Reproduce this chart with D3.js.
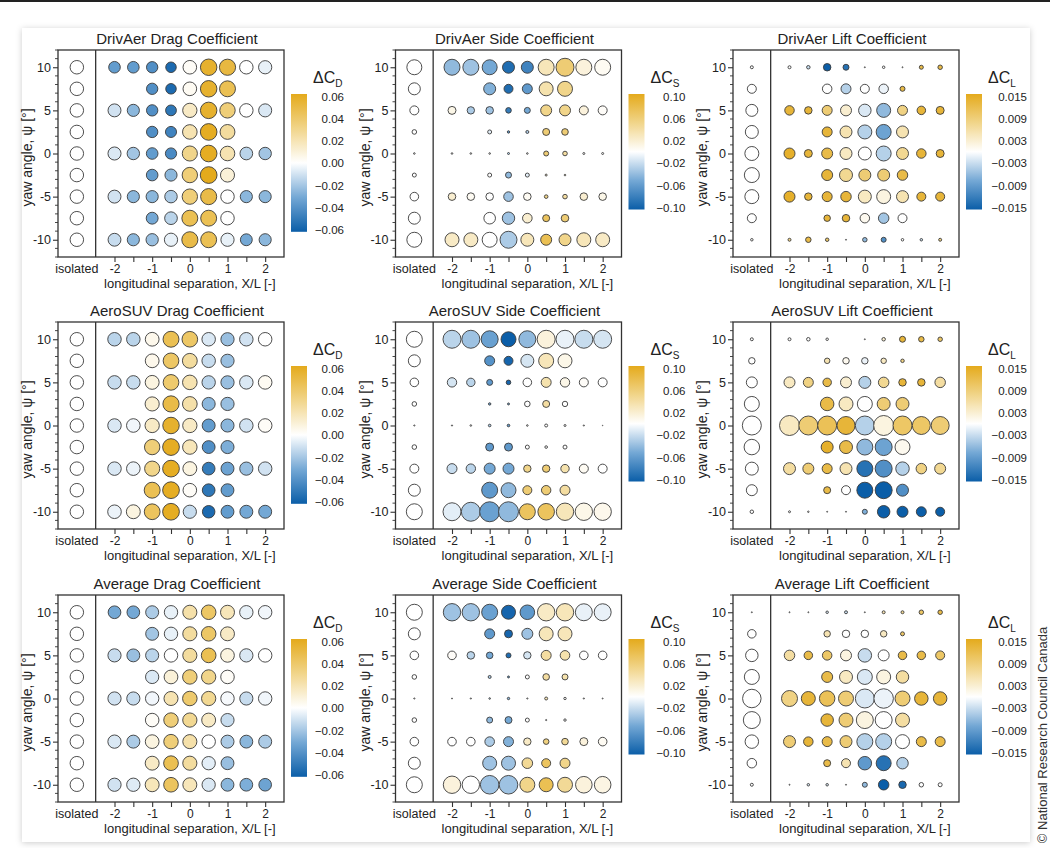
<!DOCTYPE html>
<html><head><meta charset="utf-8">
<script src="https://cdn.jsdelivr.net/npm/d3@7"></script>
<style>body{margin:0;background:#fff;font-family:"Liberation Sans",Arial,Helvetica,sans-serif}</style>
</head><body><svg id="c" width="1050" height="848"></svg>
<script>
const n = null;
const yawAngles = [10, 7.5, 5, 2.5, 0, -2.5, -5, -7.5, -10];
const separations = [-2, -1.5, -1, -0.5, 0, 0.5, 1, 1.5, 2];
const isolatedPos = -3;
const xTickValues = [-2, -1.5, -1, -0.5, 0, 0.5, 1, 1.5, 2];
const yTickValues = [-10, -5, 0, 5, 10];
const dragBarTicks = [0.06, 0.04, 0.02, 0.00, -0.02, -0.04, -0.06];
const sideBarTicks = [0.10, 0.06, 0.02, -0.02, -0.06, -0.10];
const liftBarTicks = [0.015, 0.009, 0.003, -0.003, -0.009, -0.015];

// ---- DrivAer drag ----
const drivAerDragDelta = [
 [-0.035,-0.035,-0.04,-0.055,0.002,0.055,0.05,0.0,-0.005],
 [n,n,-0.04,-0.055,0.003,0.055,0.045,n,n],
 [-0.01,-0.025,-0.04,-0.05,0.015,0.055,0.035,0.0,-0.008],
 [n,n,-0.04,-0.045,0.02,0.058,0.025,n,n],
 [-0.008,-0.02,-0.035,-0.042,0.03,0.058,0.02,-0.015,-0.02],
 [n,n,-0.035,-0.025,0.035,0.06,0.01,n,n],
 [-0.01,-0.025,-0.025,-0.018,0.035,0.048,0.0,-0.025,-0.025],
 [n,n,-0.03,-0.015,0.045,0.045,0.0,n,n],
 [-0.012,-0.025,-0.022,-0.005,0.048,0.045,-0.005,-0.03,-0.025]];
const drivAerDragMag = [
 [0.215,0.215,0.21,0.195,0.252,0.305,0.3,0.25,0.245],
 [n,n,0.21,0.195,0.253,0.305,0.295,n,n],
 [0.24,0.225,0.21,0.2,0.265,0.305,0.285,0.25,0.242],
 [n,n,0.21,0.205,0.27,0.308,0.275,n,n],
 [0.242,0.23,0.215,0.208,0.28,0.308,0.27,0.235,0.23],
 [n,n,0.215,0.225,0.285,0.31,0.26,n,n],
 [0.24,0.225,0.225,0.232,0.285,0.298,0.25,0.225,0.225],
 [n,n,0.22,0.235,0.295,0.295,0.25,n,n],
 [0.238,0.225,0.228,0.245,0.298,0.295,0.245,0.22,0.225]];
const drivAerDragIso = [0.25,0.25,0.25,0.25,0.25,0.25,0.25,0.25,0.25];

// ---- DrivAer side ----
const drivAerSideDelta = [
 [-0.04,-0.035,-0.05,-0.09,-0.075,0.03,0.06,0.015,0.005],
 [n,n,-0.045,-0.09,-0.06,0.035,0.05,n,n],
 [0.01,-0.03,-0.035,-0.08,-0.05,0.05,0.05,0.015,0.003],
 [n,n,-0.01,-0.06,-0.03,0.06,0.06,n,n],
 [0,0,0,-0.03,0,0.06,0.04,0,0],
 [n,n,0,-0.04,-0.01,0.02,0.02,n,n],
 [0.02,0.005,0,-0.035,0.005,0.05,0.04,0.02,0.01],
 [n,n,0,-0.035,0.02,0.07,0.06,n,n],
 [0.025,0.025,0,-0.03,0.03,0.075,0.05,0.03,0.025]];
const drivAerSideMag = [
 [0.32,0.32,0.30,0.24,0.24,0.32,0.36,0.32,0.32],
 [n,n,0.24,0.18,0.2,0.28,0.3,n,n],
 [0.16,0.148,0.152,0.112,0.12,0.22,0.22,0.18,0.18],
 [n,n,0.08,0.048,0.06,0.14,0.132,n,n],
 [0.032,0.032,0.032,0.04,0.032,0.1,0.092,0.04,0.04],
 [n,n,0.08,0.12,0.08,0.04,0.032,n,n],
 [0.152,0.152,0.152,0.192,0.152,0.072,0.092,0.152,0.152],
 [n,n,0.232,0.248,0.192,0.14,0.152,n,n],
 [0.28,0.28,0.3,0.34,0.26,0.22,0.24,0.28,0.28]];
const drivAerSideIso = [0.3,0.24,0.18,0.092,0.032,0.08,0.172,0.24,0.3];

// ---- DrivAer lift ----
const drivAerLiftDelta = [
 [0,-0.003,-0.015,-0.013,0,0,0,0.012,0.012],
 [n,n,0,-0.004,0,-0.001,0.012,n,n],
 [0.013,0.013,0.009,0.003,-0.002,-0.006,0.008,0.013,0.013],
 [n,n,0.013,0.005,-0.004,-0.008,0.005,n,n],
 [0.014,0.013,0.012,0.004,0,-0.004,0.007,0.013,0.013],
 [n,n,0.013,0.007,0.009,0.009,0.012,n,n],
 [0.014,0.013,0.013,0.013,0.004,0.002,0.005,0.013,0.013],
 [n,n,0.013,0.013,0.001,-0.005,0,n,n],
 [0.008,0.012,0.01,0,-0.006,-0.01,0,-0.003,0.008]];
const drivAerLiftMag = [
 [0.006,0.007,0.015,0.012,0.002,0.005,0.002,0.008,0.009],
 [n,n,0.019,0.02,0.018,0.019,0.01,n,n],
 [0.019,0.015,0.02,0.022,0.025,0.028,0.02,0.017,0.016],
 [n,n,0.02,0.024,0.028,0.03,0.024,n,n],
 [0.022,0.016,0.022,0.024,0.026,0.03,0.024,0.019,0.016],
 [n,n,0.022,0.026,0.024,0.024,0.021,n,n],
 [0.022,0.015,0.02,0.021,0.026,0.028,0.024,0.018,0.018],
 [n,n,0.013,0.015,0.019,0.021,0.018,n,n],
 [0.006,0.011,0.007,0.002,0.009,0.01,0.005,0.005,0.006]];
const drivAerLiftIso = [0.006,0.018,0.024,0.026,0.028,0.03,0.028,0.018,0.005];

// ---- AeroSUV drag ----
const aeroSuvDragDelta = [
 [-0.015,-0.015,0.005,0.045,0.04,-0.008,-0.022,-0.01,0],
 [n,n,0.005,0.04,0.025,-0.012,-0.022,n,n],
 [-0.012,-0.012,0.008,0.038,0.02,-0.015,-0.022,-0.008,0.003],
 [n,n,0.012,0.048,0.022,-0.025,-0.022,n,n],
 [-0.008,-0.003,0.015,0.055,0.015,-0.035,-0.025,-0.01,0.002],
 [n,n,0.035,0.058,0.018,-0.04,-0.028,n,n],
 [-0.008,-0.004,0.03,0.058,0.008,-0.048,-0.032,-0.022,-0.01],
 [n,n,0.045,0.058,0.002,-0.05,-0.035,n,n],
 [-0.004,0.008,0.042,0.058,-0.012,-0.055,-0.035,-0.03,-0.03]];
const aeroSuvDragMag = [
 [0.25,0.25,0.255,0.295,0.29,0.25,0.245,0.25,0.25],
 [n,n,0.255,0.29,0.275,0.25,0.245,n,n],
 [0.25,0.25,0.258,0.29,0.27,0.248,0.245,0.25,0.252],
 [n,n,0.262,0.3,0.272,0.242,0.245,n,n],
 [0.25,0.252,0.265,0.305,0.265,0.24,0.243,0.25,0.252],
 [n,n,0.285,0.31,0.268,0.238,0.242,n,n],
 [0.25,0.252,0.28,0.31,0.258,0.235,0.24,0.245,0.25],
 [n,n,0.295,0.31,0.252,0.235,0.238,n,n],
 [0.252,0.258,0.292,0.31,0.245,0.232,0.238,0.24,0.24]];
const aeroSuvDragIso = [0.25,0.25,0.25,0.25,0.25,0.25,0.25,0.25,0.25];

// ---- AeroSUV side ----
const aeroSuvSideDelta = [
 [-0.025,-0.035,-0.055,-0.1,-0.04,0.015,-0.008,-0.02,-0.015],
 [n,n,-0.065,-0.095,-0.015,0.03,0.01,n,n],
 [-0.015,-0.025,-0.06,-0.095,0,0.035,0.01,0.003,0],
 [n,n,-0.05,-0.05,0,0.04,0,n,n],
 [0,0,-0.03,-0.06,0,0,0,0,0],
 [n,n,-0.06,-0.06,0,0,0,n,n],
 [-0.02,-0.025,-0.05,-0.05,0.05,0.06,0.035,0.005,0],
 [n,n,-0.06,-0.04,0.06,0.06,0.04,n,n],
 [-0.01,-0.03,-0.055,-0.04,0.07,0.07,0.03,0.01,0.008]];
const aeroSuvSideMag = [
 [0.36,0.36,0.34,0.3,0.34,0.36,0.36,0.36,0.36],
 [n,n,0.2,0.18,0.26,0.3,0.28,n,n],
 [0.188,0.168,0.12,0.092,0.172,0.2,0.188,0.18,0.18],
 [n,n,0.048,0.04,0.112,0.14,0.108,n,n],
 [0.024,0.032,0.052,0.052,0.032,0.06,0.04,0.024,0.012],
 [n,n,0.16,0.16,0.08,0.052,0.08,n,n],
 [0.2,0.188,0.22,0.22,0.148,0.148,0.168,0.18,0.18],
 [n,n,0.32,0.3,0.18,0.188,0.2,n,n],
 [0.36,0.38,0.4,0.4,0.32,0.332,0.348,0.348,0.348]];
const aeroSuvSideIso = [0.32,0.24,0.172,0.092,0.024,0.092,0.18,0.24,0.32];

// ---- AeroSUV lift ----
const aeroSuvLiftDelta = [
 [0,0,0,0,0,0.003,0.013,0.012,0.01],
 [n,n,0.005,0.001,-0.001,0.004,0.008,n,n],
 [0.004,0.008,0.012,0.003,-0.004,0.007,0.013,0.013,0.006],
 [n,n,0.012,0.004,0,0.009,0.009,n,n],
 [0.004,0.009,0.011,0.013,-0.004,0.002,0.01,0.01,0.009],
 [n,n,0.014,0.012,-0.006,-0.008,0.001,n,n],
 [0.006,0.009,0.012,0.005,-0.013,-0.01,-0.004,0.008,0.007],
 [n,n,0.012,0,-0.015,-0.015,-0.01,n,n],
 [0,0,0,0,-0.007,-0.015,-0.015,-0.015,-0.015]];
const aeroSuvLiftMag = [
 [0.006,0.007,0.005,0,0.002,0.007,0.012,0.011,0.009],
 [n,n,0.011,0.013,0.013,0.011,0.007,n,n],
 [0.022,0.02,0.017,0.022,0.024,0.021,0.015,0.015,0.021],
 [n,n,0.027,0.028,0.03,0.026,0.026,n,n],
 [0.04,0.038,0.038,0.036,0.038,0.04,0.038,0.036,0.036],
 [n,n,0.024,0.026,0.032,0.034,0.03,n,n],
 [0.024,0.022,0.02,0.024,0.032,0.034,0.027,0.021,0.022],
 [n,n,0.014,0.018,0.032,0.034,0.024,n,n],
 [0.004,0.003,0.002,0.002,0.01,0.025,0.022,0.02,0.018]];
const aeroSuvLiftIso = [0.006,0.013,0.022,0.03,0.038,0.031,0.026,0.022,0.007];

// ---- Average drag ----
const averageDragDelta = [
 [-0.03,-0.03,-0.018,-0.005,0.022,0.04,0.018,-0.005,-0.003],
 [n,n,-0.02,-0.005,0.025,0.04,0.015,n,n],
 [-0.012,-0.022,-0.015,0,0.025,0.045,0.008,-0.008,0],
 [n,n,-0.008,0.01,0.035,0.03,0.002,n,n],
 [-0.01,-0.012,-0.003,0.02,0.038,0.028,-0.002,-0.012,-0.003],
 [n,n,0.002,0.035,0.028,0.015,-0.012,n,n],
 [-0.008,-0.018,0.008,0.035,0.022,0,-0.018,-0.025,-0.018],
 [n,n,0.015,0.045,0.025,-0.006,-0.022,n,n],
 [-0.01,-0.007,0.018,0.042,0.018,-0.008,-0.025,-0.028,-0.032]];
const averageDragMag = [
 [0.235,0.235,0.241,0.248,0.261,0.27,0.259,0.248,0.249],
 [n,n,0.24,0.248,0.262,0.27,0.258,n,n],
 [0.244,0.239,0.243,0.25,0.262,0.272,0.254,0.246,0.25],
 [n,n,0.246,0.255,0.268,0.265,0.251,n,n],
 [0.245,0.244,0.249,0.26,0.269,0.264,0.249,0.244,0.249],
 [n,n,0.251,0.268,0.264,0.258,0.244,n,n],
 [0.246,0.241,0.254,0.268,0.261,0.25,0.241,0.238,0.241],
 [n,n,0.258,0.272,0.262,0.247,0.239,n,n],
 [0.245,0.247,0.259,0.271,0.259,0.246,0.238,0.236,0.234]];
const averageDragIso = [0.25,0.25,0.25,0.25,0.25,0.25,0.25,0.25,0.25];

// ---- Average side ----
const averageSideDelta = [
 [-0.035,-0.035,-0.055,-0.095,-0.06,0.025,0.03,-0.008,-0.008],
 [n,n,-0.06,-0.095,-0.035,0.03,0.03,n,n],
 [0.003,-0.025,-0.05,-0.09,-0.015,0.04,0.035,0,0],
 [n,n,-0.03,-0.06,0,0.04,0.035,n,n],
 [0,0,-0.02,-0.04,0,0.03,0,0,0],
 [n,n,-0.04,-0.05,0,0,0,n,n],
 [0,0,-0.03,-0.045,0.025,0.055,0.045,0.015,0.005],
 [n,n,-0.035,-0.035,0.045,0.07,0.05,n,n],
 [0.015,0,-0.035,-0.035,0.05,0.075,0.045,0.015,0.012]];
const averageSideMag = [
 [0.348,0.348,0.32,0.28,0.292,0.348,0.348,0.34,0.34],
 [n,n,0.2,0.16,0.22,0.28,0.28,n,n],
 [0.172,0.152,0.132,0.1,0.148,0.2,0.192,0.172,0.172],
 [n,n,0.06,0.04,0.08,0.132,0.12,n,n],
 [0.02,0.024,0.032,0.048,0.024,0.06,0.048,0.024,0.02],
 [n,n,0.12,0.14,0.08,0.024,0.048,n,n],
 [0.172,0.172,0.192,0.2,0.148,0.112,0.132,0.16,0.172],
 [n,n,0.28,0.28,0.212,0.18,0.2,n,n],
 [0.348,0.348,0.372,0.372,0.3,0.28,0.3,0.332,0.332]];
const averageSideIso = [0.32,0.24,0.172,0.092,0.024,0.092,0.172,0.24,0.32];

// ---- Average lift ----
const averageLiftDelta = [
 [0,0,-0.002,-0.003,0,0.005,0.007,0.01,0.012],
 [n,n,0.005,0,0,0.004,0.01,n,n],
 [0.006,0.012,0.01,0.002,-0.003,0,0.012,0.012,0.01],
 [n,n,0.012,0.004,-0.002,0.002,0.006,n,n],
 [0.008,0.013,0.011,0.009,-0.002,-0.001,0.009,0.013,0.013],
 [n,n,0.013,0.009,0.002,0,0.006,n,n],
 [0.009,0.013,0.012,0.009,-0.004,-0.004,0,0.012,0.012],
 [n,n,0.012,0.005,-0.009,-0.013,-0.004,n,n],
 [0,-0.002,-0.002,0,-0.006,-0.015,-0.014,0,0]];
const averageLiftMag = [
 [0.002,0.002,0.005,0.006,0.002,0.006,0.006,0.009,0.009],
 [n,n,0.013,0.015,0.015,0.013,0.008,n,n],
 [0.021,0.017,0.019,0.022,0.027,0.022,0.017,0.017,0.018],
 [n,n,0.022,0.026,0.03,0.028,0.025,n,n],
 [0.032,0.028,0.031,0.03,0.038,0.039,0.03,0.027,0.027],
 [n,n,0.025,0.028,0.034,0.034,0.028,n,n],
 [0.024,0.019,0.02,0.024,0.032,0.032,0.028,0.02,0.02],
 [n,n,0.014,0.018,0.027,0.03,0.023,n,n],
 [0.002,0.005,0.005,0.002,0.01,0.021,0.015,0.009,0.008]];
const averageLiftIso = [0.002,0.017,0.025,0.03,0.037,0.034,0.027,0.019,0.006];

const panels = [
 {title:"DrivAer Drag Coefficient", kind:"D", delta:drivAerDragDelta, mag:drivAerDragMag, iso:drivAerDragIso},
 {title:"DrivAer Side Coefficient", kind:"S", delta:drivAerSideDelta, mag:drivAerSideMag, iso:drivAerSideIso},
 {title:"DrivAer Lift Coefficient", kind:"L", delta:drivAerLiftDelta, mag:drivAerLiftMag, iso:drivAerLiftIso},
 {title:"AeroSUV Drag Coefficient", kind:"D", delta:aeroSuvDragDelta, mag:aeroSuvDragMag, iso:aeroSuvDragIso},
 {title:"AeroSUV Side Coefficient", kind:"S", delta:aeroSuvSideDelta, mag:aeroSuvSideMag, iso:aeroSuvSideIso},
 {title:"AeroSUV Lift Coefficient", kind:"L", delta:aeroSuvLiftDelta, mag:aeroSuvLiftMag, iso:aeroSuvLiftIso},
 {title:"Average Drag Coefficient", kind:"D", delta:averageDragDelta, mag:averageDragMag, iso:averageDragIso},
 {title:"Average Side Coefficient", kind:"S", delta:averageSideDelta, mag:averageSideMag, iso:averageSideIso},
 {title:"Average Lift Coefficient", kind:"L", delta:averageLiftDelta, mag:averageLiftMag, iso:averageLiftIso}
];

const kinds = {
 D:{ticks:dragBarTicks, fmt:d3.format(".2f"), sub:"D", rDomain:[0,0.35], rRange:[0,9.45], labOff:37},
 S:{ticks:sideBarTicks, fmt:d3.format(".2f"), sub:"S", rDomain:[0,0.4], rRange:[0,10], labOff:41},
 L:{ticks:liftBarTicks, fmt:d3.format(".3f"), sub:"L", rDomain:[0,0.04], rRange:[0,10], labOff:45}
};

const ramp = d3.scaleLinear().domain([-1,-0.5,0,0.5,1])
  .range(["#0b5ea8","#74a8d5","#ffffff","#f1d58a","#e4aa1c"]).clamp(true);

const svg = d3.select("#c");
const defs = svg.append("defs");
const flt = defs.append("filter").attr("id","sh").attr("x","-3%").attr("y","-3%").attr("width","106%").attr("height","106%");
flt.append("feDropShadow").attr("dx",0).attr("dy",1).attr("stdDeviation",3).attr("flood-color","#000").attr("flood-opacity",0.2);
const grad = defs.append("linearGradient").attr("id","cbar").attr("x1",0).attr("y1",0).attr("x2",0).attr("y2",1);
d3.range(0,1.0001,0.05).forEach(o => grad.append("stop").attr("offset",o).attr("stop-color", ramp(1-2*o)));

svg.append("rect").attr("x",0).attr("y",0).attr("width",1050).attr("height",2).attr("fill","#222");
svg.append("rect").attr("x",22).attr("y",28).attr("width",1008).attr("height",814).attr("fill","#fff").attr("filter","url(#sh)");

const colX = [58, 395.5, 733], rowY = [50, 322, 595], W = 226, H = 207;
const txt = "#222", axisCol = "#333";

panels.forEach((p, i) => {
  const x0 = colX[i % 3], y0 = rowY[Math.floor(i / 3)];
  const K = kinds[p.kind];
  const maxV = K.ticks[0];
  const x = d3.scaleLinear().domain([-3.5, 2.5]).range([x0, x0 + W]);
  const y = d3.scaleLinear().domain([-12, 12]).range([y0 + H, y0]);
  const r = d3.scaleLinear().domain(K.rDomain).range(K.rRange);
  const col = v => ramp(v / maxV);
  const g = svg.append("g");

  // frame
  g.append("rect").attr("x", x0).attr("y", y0).attr("width", W).attr("height", H)
    .attr("fill", "#fff").attr("stroke", axisCol).attr("stroke-width", 1.3);
  g.append("line").attr("x1", x(-2.5)).attr("x2", x(-2.5)).attr("y1", y0).attr("y2", y0 + H)
    .attr("stroke", axisCol).attr("stroke-width", 1.3);

  // axes
  const xa = g.append("g").attr("transform", `translate(0,${y0 + H})`)
    .call(d3.axisBottom(x).tickValues(xTickValues).tickSize(5).tickPadding(2)
      .tickFormat(d => Number.isInteger(d) ? String(d) : ""));
  xa.select(".domain").remove();
  xa.selectAll("line").attr("stroke", axisCol).attr("stroke-width", 1.1);
  xa.selectAll("text").attr("font-size", 12).attr("fill", txt).attr("font-family", "Liberation Sans, Arial, sans-serif");
  g.append("text").attr("x", x(isolatedPos)).attr("y", y0 + H + 7).attr("dy", "0.71em")
    .attr("text-anchor", "middle").attr("font-size", 12.5).attr("fill", txt).text("isolated");

  const ya = g.append("g").attr("transform", `translate(${x0},0)`)
    .call(d3.axisLeft(y).tickValues(yTickValues).tickSize(5).tickPadding(2).tickFormat(d => String(d)));
  ya.select(".domain").remove();
  ya.selectAll("line").attr("stroke", axisCol).attr("stroke-width", 1.1);
  ya.selectAll("text").attr("font-size", 12.5).attr("fill", txt).attr("font-family", "Liberation Sans, Arial, sans-serif");
  g.selectAll(".minor").data(d3.range(-12, 13).filter(v => v % 5 !== 0)).join("line")
    .attr("x1", x0 - 3).attr("x2", x0).attr("y1", d => y(d)).attr("y2", d => y(d))
    .attr("stroke", axisCol).attr("stroke-width", 0.9);

  // labels
  g.append("text").attr("x", x0 + W / 2 + 6).attr("y", y0 - 6).attr("text-anchor", "middle")
    .attr("font-size", 15).attr("fill", txt).text(p.title);
  g.append("text").attr("transform", `translate(${x0 - 26},${y0 + H / 2 + 4}) rotate(-90)`)
    .attr("text-anchor", "middle").attr("font-size", 14).attr("fill", txt).text("yaw angle, ψ [°]");
  g.append("text").attr("x", (x(-2.5) + x0 + W) / 2).attr("y", y0 + H + 31).attr("text-anchor", "middle")
    .attr("font-size", 13).attr("fill", txt).text("longitudinal separation, X/L [-]");

  // bubbles
  const cells = [];
  yawAngles.forEach((yaw, j) => {
    cells.push({sx: isolatedPos, yaw, d: 0, m: p.iso[j]});
    separations.forEach((s, k) => {
      const d = p.delta[j][k];
      if (d !== null && p.mag[j][k] > 0) cells.push({sx: s, yaw, d, m: p.mag[j][k]});
    });
  });
  g.append("g").selectAll("circle").data(cells).join("circle")
    .attr("cx", c => x(c.sx)).attr("cy", c => y(c.yaw)).attr("r", c => r(c.m))
    .attr("fill", c => col(c.d)).attr("stroke", "#3a3a3a").attr("stroke-width", 0.9);

  // colorbar
  const bx = x0 + W + 7, by = y0 + 44, bw = 16, step = 22.3;
  const nT = K.ticks.length;
  const cy = d3.scaleLinear().domain([K.ticks[0], K.ticks[nT - 1]]).range([by + 2.5, by + 2.5 + (nT - 1) * step]);
  g.append("rect").attr("x", bx).attr("y", by).attr("width", bw)
    .attr("height", cy(K.ticks[nT - 1]) + 1.5 - by).attr("fill", "url(#cbar)");
  g.selectAll(".cbt").data(K.ticks).join("text")
    .attr("x", bx + bw + K.labOff).attr("y", d => cy(d)).attr("dy", "0.35em")
    .attr("text-anchor", "end").attr("font-size", 11.5).attr("fill", txt).text(d => K.fmt(d));
  const lab = g.append("text").attr("x", bx + 22).attr("y", y0 + 33).attr("font-size", 16).attr("fill", txt);
  lab.append("tspan").text("ΔC");
  lab.append("tspan").attr("dy", 4).attr("font-size", 10).text(K.sub);
});

svg.append("text").attr("transform", "translate(1042,735) rotate(-90)").attr("text-anchor", "middle")
  .attr("dy", "0.35em").attr("font-size", 13).attr("fill", "#333").text("© National Research Council Canada");
</script></body></html>
